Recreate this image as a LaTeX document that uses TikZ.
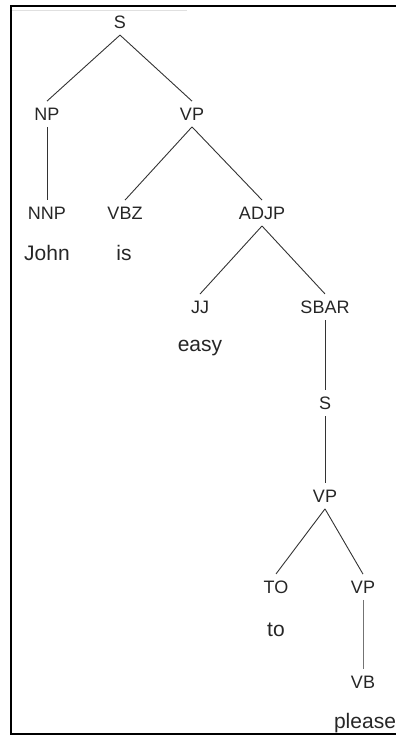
\documentclass[tikz,border=0pt]{standalone}
\usepackage{fontspec}
\setmainfont{Liberation Sans}
\usetikzlibrary{positioning}

\begin{document}
\begin{tikzpicture}[x=1pt,y=-1pt,
  cat/.style={font=\fontsize{18}{18}\selectfont,inner sep=6.5pt,text=black!85},
  word/.style={font=\fontsize{21}{21}\selectfont,inner sep=2pt,text=black!85},
  branch/.style={line width=0.9pt,draw=black!80}]
  \useasboundingbox (0,0) rectangle (396,736);
  % frame
  \draw[line width=0.5pt,black!12] (12,10) -- (187,10);
  \draw[line width=1.6pt] (400,6) -- (11,6) -- (11,734) -- (400,734);
  % categories
  \node[cat] (s)    at (120,22)  {S};
  \node[cat] (np)   at (47,114)  {NP};
  \node[cat] (vp)   at (192,114) {VP};
  \node[cat] (nnp)  at (47,213)  {NNP};
  \node[cat] (vbz)  at (125,213) {VBZ};
  \node[cat] (adjp) at (262,213) {ADJP};
  \node[cat] (jj)   at (200,307) {JJ};
  \node[cat] (sbar) at (325,307) {SBAR};
  \node[cat] (s2)   at (325,403) {S};
  \node[cat] (vp2)  at (325,496) {VP};
  \node[cat] (to)   at (276,587) {TO};
  \node[cat] (vp3)  at (363,587) {VP};
  \node[cat] (vb)   at (363,682) {VB};
  % words
  \node[word] (john)   at (47,253)  {John};
  \node[word] (is)     at (124,253) {is};
  \node[word] (easy)   at (200,348) {easy};
  \node[word] (toword) at (276,630) {to};
  \node[word] (please) at (365,723) {please};
  % branches
  \draw[branch] (s.south) -- (np.north);
  \draw[branch] (s.south) -- (vp.north);
  \draw[branch] (np.south) -- (nnp.north);
  \draw[branch] (vp.south) -- (vbz.north);
  \draw[branch] (vp.south) -- (adjp.north);
  \draw[branch] (adjp.south) -- (jj.north);
  \draw[branch] (adjp.south) -- (sbar.north);
  \draw[branch] (sbar.south) -- (s2.north);
  \draw[branch] (s2.south) -- (vp2.north);
  \draw[branch] (vp2.south) -- (to.north);
  \draw[branch] (vp2.south) -- (vp3.north);
  \draw[line width=0.6pt,black!55] (vp3.south) -- (vb.north);
\end{tikzpicture}
\end{document}
